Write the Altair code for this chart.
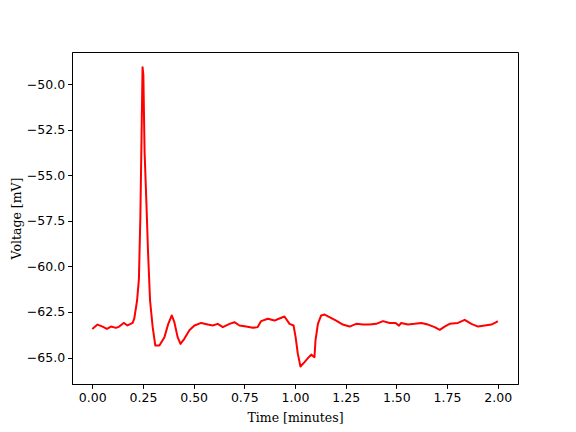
import altair as alt
import pandas as pd

time_min = [
    0.000, 0.026, 0.051, 0.072, 0.092, 0.117, 0.133, 0.155, 0.174, 0.199,
    0.207, 0.216, 0.221, 0.230, 0.237, 0.242, 0.248, 0.252, 0.258, 0.267,
    0.275, 0.285, 0.298, 0.311, 0.331, 0.356, 0.375, 0.392, 0.405, 0.421,
    0.435, 0.454, 0.479, 0.504, 0.537, 0.570, 0.594, 0.619, 0.644, 0.677,
    0.701, 0.726, 0.759, 0.792, 0.816, 0.833, 0.866, 0.899, 0.920, 0.948,
    0.973, 0.993, 1.003, 1.014, 1.027, 1.047, 1.068, 1.080, 1.096, 1.101,
    1.113, 1.129, 1.146, 1.170, 1.203, 1.236, 1.269, 1.302, 1.335, 1.368,
    1.401, 1.434, 1.467, 1.496, 1.513, 1.524, 1.557, 1.590, 1.623, 1.656,
    1.689, 1.714, 1.738, 1.763, 1.804, 1.837, 1.870, 1.903, 1.936, 1.969,
    1.993, 2.000,
]
voltage_mv = [
    -63.43, -63.19, -63.30, -63.43, -63.30, -63.37, -63.30, -63.10, -63.24, -63.10,
    -62.87, -62.23, -61.87, -60.70, -57.40, -53.70, -49.07, -49.50, -53.70, -56.50,
    -59.20, -61.87, -63.33, -64.34, -64.34, -63.88, -63.15, -62.69, -63.06, -63.88,
    -64.25, -63.97, -63.50, -63.24, -63.10, -63.19, -63.24, -63.15, -63.33, -63.15,
    -63.06, -63.24, -63.30, -63.37, -63.33, -63.00, -62.87, -62.97, -62.87, -62.75,
    -63.15, -63.24, -63.88, -64.80, -65.49, -65.25, -64.98, -64.84, -64.98, -64.07,
    -63.15, -62.69, -62.64, -62.78, -62.97, -63.19, -63.30, -63.15, -63.19, -63.19,
    -63.15, -63.00, -63.10, -63.10, -63.25, -63.10, -63.19, -63.15, -63.10, -63.19,
    -63.33, -63.48, -63.30, -63.15, -63.10, -62.93, -63.15, -63.30, -63.24, -63.19,
    -63.06, -63.00,
]

df = pd.DataFrame({"t": time_min, "v": voltage_mv})

x_ticks = [0.0, 0.25, 0.5, 0.75, 1.0, 1.25, 1.5, 1.75, 2.0]
y_ticks = [-50.0, -52.5, -55.0, -57.5, -60.0, -62.5, -65.0]

chart = alt.Chart(df).mark_line(color="#ff0000", strokeWidth=2, strokeJoin="round").encode(
    x=alt.X("t:Q", scale=alt.Scale(domain=[-0.1, 2.1], nice=False, zero=False),
            axis=alt.Axis(title="Time [minutes]", values=x_ticks, format=".2f")),
    y=alt.Y("v:Q", scale=alt.Scale(domain=[-66.45, -48.24], nice=False, zero=False),
            axis=alt.Axis(title="Voltage [mV]", values=y_ticks, format=".1f")),
    order="t:Q",
).properties(
    width=446, height=332,
    autosize=alt.AutoSizeParams(type="none"),
    padding={"left": 64, "top": 44, "right": 50, "bottom": 48},
).configure_view(
    stroke="black", strokeWidth=1
).configure_axis(
    grid=False,
    domainColor="black", domainWidth=1,
    tickColor="black", tickWidth=1, tickSize=4.4,
    labelFont="DejaVu Sans", labelFontSize=12.5, labelColor="black", labelPadding=3,
    titleFont="DejaVu Serif", titleFontSize=12.5, titleFontWeight="normal", titleColor="black",
).configure_axisX(
    titlePadding=8
).configure_axisY(
    titlePadding=3
)

chart.save("out.html", embed_options={"renderer": "svg", "actions": False})
